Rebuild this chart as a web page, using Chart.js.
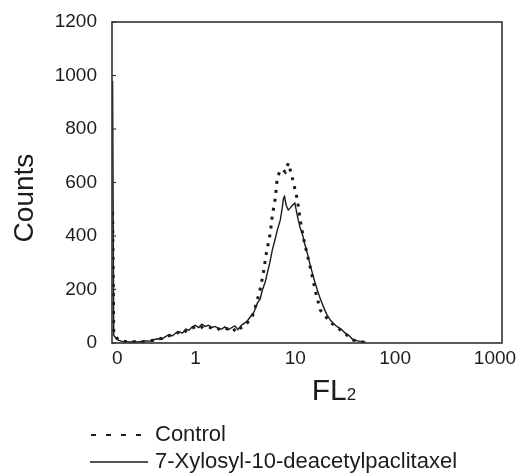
<!DOCTYPE html>
<html>
<head>
<meta charset="utf-8">
<script src="https://cdn.jsdelivr.net/npm/chart.js@4/dist/chart.umd.min.js"></script>
<style>
  html, body { margin: 0; padding: 0; background: #fff; }
  #wrap { width: 516px; height: 475px; }
</style>
</head>
<body>
<div id="wrap"><canvas id="histChart"></canvas></div>
<script>
// flow cytometry histogram, FL2 channel (log scale)
const ctrlFL2 = [0.148, 0.152, 0.16, 0.17, 0.19, 0.21, 0.24, 0.27, 0.3, 0.34,
  0.38, 0.42, 0.47, 0.52, 0.58, 0.64, 0.7, 0.77, 0.85, 0.93,
  1.02, 1.12, 1.23, 1.35, 1.48, 1.62, 1.78, 1.95, 2.14, 2.35,
  2.55, 2.8, 3.05, 3.3, 3.7, 4.1, 4.47, 4.79, 5.13, 5.62,
  5.89, 6.31, 6.61, 7.0, 7.41, 7.94, 8.51, 9.0, 9.55, 10.5,
  11.2, 12.0, 13.0, 14.1, 15.8, 17.8, 19.5, 22.4, 25, 28.2,
  32, 38, 43, 50];
const ctrlCounts = [490, 35, 22, 12, 7, 4, 5, 6, 5, 8,
  10, 15, 18, 25, 30, 34, 45, 40, 52, 56,
  62, 56, 64, 60, 55, 58, 48, 55, 52, 58,
  41, 55, 62, 75, 98, 150, 205, 262, 336, 411,
  478, 542, 621, 640, 650, 639, 673, 640, 602, 535,
  460, 396, 340, 284, 198, 123, 105, 78, 64, 49,
  33, 11, 7, 2];

const drugFL2 = [0.148, 0.152, 0.16, 0.17, 0.185, 0.2, 0.22, 0.24, 0.265, 0.29,
  0.32, 0.35, 0.38, 0.42, 0.46, 0.5, 0.54, 0.59, 0.64, 0.69,
  0.74, 0.8, 0.86, 0.93, 1.0, 1.08, 1.16, 1.25, 1.35, 1.46,
  1.58, 1.7, 1.83, 1.97, 2.13, 2.3, 2.48, 2.67, 2.88, 3.1,
  3.33, 3.55, 3.85, 4.17, 4.45, 4.68, 5.0, 5.25, 5.55, 5.89,
  6.25, 6.61, 7.08, 7.4, 7.6, 7.8, 8.1, 8.5, 8.9, 9.4,
  9.9, 10.3, 10.7, 11.2, 11.7, 12.4, 13.2, 14.0, 14.8, 15.7,
  16.6, 17.8, 19.1, 20.6, 22.4, 24.2, 26.3, 28.7, 31.6, 34.5,
  38, 42, 46, 51];
const drugCounts = [980, 28, 18, 10, 6, 5, 4, 6, 4, 6,
  8, 7, 12, 16, 14, 24, 30, 27, 38, 42,
  37, 52, 48, 60, 66, 58, 70, 62, 66, 58,
  62, 54, 52, 60, 50, 57, 64, 50, 66, 74,
  84, 98, 115, 149, 165, 198, 228, 262, 300, 348,
  385, 422, 460, 505, 540, 548, 515, 497, 505, 516,
  523, 490, 460, 430, 411, 372, 336, 296, 262, 228,
  198, 165, 136, 108, 86, 72, 61, 52, 37, 28,
  11, 8, 5, 2];

const xTickValues = [0.165, 1, 10, 100, 1000];
const xTickLabels = ['0', '1', '10', '100', '1000'];
const seriesNames = ['Control', '7-Xylosyl-10-deacetylpaclitaxel'];

const sans = '"Liberation Sans", Arial, sans-serif';
const ink = '#1c1c1c';

function toPoints(xs, ys) {
  return xs.map((x, i) => ({ x: x, y: ys[i] }));
}

// box around plot, inward y ticks, FL2 title and the legend
const framePlugin = {
  id: 'frame',
  afterDatasetsDraw(chart) {
    const ctx = chart.ctx;
    const a = chart.chartArea;
    const yScale = chart.scales.y;
    ctx.save();
    ctx.strokeStyle = '#333';
    ctx.lineWidth = 1.6;
    ctx.strokeRect(a.left, a.top, a.right - a.left, a.bottom - a.top);
    ctx.lineWidth = 1.2;
    yScale.ticks.forEach(t => {
      const py = yScale.getPixelForValue(t.value);
      ctx.beginPath();
      ctx.moveTo(a.left, py);
      ctx.lineTo(a.left + 4, py);
      ctx.stroke();
    });
    ctx.restore();
  },
  afterDraw(chart) {
    const ctx = chart.ctx;
    ctx.save();
    ctx.fillStyle = ink;
    ctx.textBaseline = 'alphabetic';
    // x title: FL with a small 2
    ctx.font = '30px ' + sans;
    const wFL = ctx.measureText('FL').width;
    ctx.font = '17px ' + sans;
    const w2 = ctx.measureText('2').width;
    const tx = 334 - (wFL + w2) / 2;
    ctx.font = '30px ' + sans;
    ctx.fillText('FL', tx, 400);
    ctx.font = '17px ' + sans;
    ctx.fillText('2', tx + wFL, 400);

    // legend
    ctx.font = '22px ' + sans;
    ctx.textBaseline = 'middle';
    const rows = [435, 462];
    chart.data.datasets.forEach((ds, i) => {
      const y = rows[i];
      ctx.strokeStyle = ink;
      ctx.lineWidth = i === 0 ? 2 : 1.3;
      ctx.setLineDash(i === 0 ? [5, 10] : []);
      ctx.beginPath();
      ctx.moveTo(i === 0 ? 91 : 90, y);
      ctx.lineTo(148, y);
      ctx.stroke();
      ctx.setLineDash([]);
      ctx.fillText(ds.label, 155, y);
    });
    ctx.restore();
  }
};

const ctx = document.getElementById('histChart').getContext('2d');
const histChart = new Chart(ctx, {
  type: 'line',
  data: {
    datasets: [
      {
        label: seriesNames[0],
        data: toPoints(ctrlFL2, ctrlCounts),
        borderColor: ink,
        borderWidth: 3,
        borderDash: [3, 6],
        pointRadius: 0,
        tension: 0
      },
      {
        label: seriesNames[1],
        data: toPoints(drugFL2, drugCounts),
        borderColor: ink,
        borderWidth: 1.4,
        pointRadius: 0,
        tension: 0
      }
    ]
  },
  options: {
    responsive: true,
    maintainAspectRatio: false,
    animation: false,
    layout: { padding: { top: 22, right: 14, bottom: 0, left: 0 } },
    plugins: {
      legend: { display: false },
      tooltip: { enabled: false }
    },
    scales: {
      x: {
        type: 'logarithmic',
        min: 0.146,
        max: 1175,
        grid: { display: false, drawTicks: false },
        border: { display: false },
        afterBuildTicks: (scale) => {
          scale.ticks = xTickValues.map(v => ({ value: v }));
        },
        afterFit: (scale) => {
          scale.height = 132;
          scale.paddingLeft = 0;
          scale.paddingRight = 0;
        },
        ticks: {
          color: ink,
          padding: 4,
          maxRotation: 0,
          autoSkip: false,
          font: { family: sans, size: 19 },
          callback: (val, i) => xTickLabels[i]
        }
      },
      y: {
        min: 0,
        max: 1200,
        grid: { display: false, drawTicks: false },
        border: { display: false },
        afterFit: (scale) => {
          scale.width = 112;
          scale.paddingTop = 0;
          scale.paddingBottom = 0;
        },
        ticks: {
          stepSize: 200,
          color: ink,
          padding: 15,
          font: { family: sans, size: 19 },
          callback: (val) => String(val)
        },
        title: {
          display: true,
          text: 'Counts    ',
          color: ink,
          padding: { top: 8, bottom: 0 },
          font: { family: sans, size: 28 }
        }
      }
    }
  },
  plugins: [framePlugin]
});
</script>
</body>
</html>
